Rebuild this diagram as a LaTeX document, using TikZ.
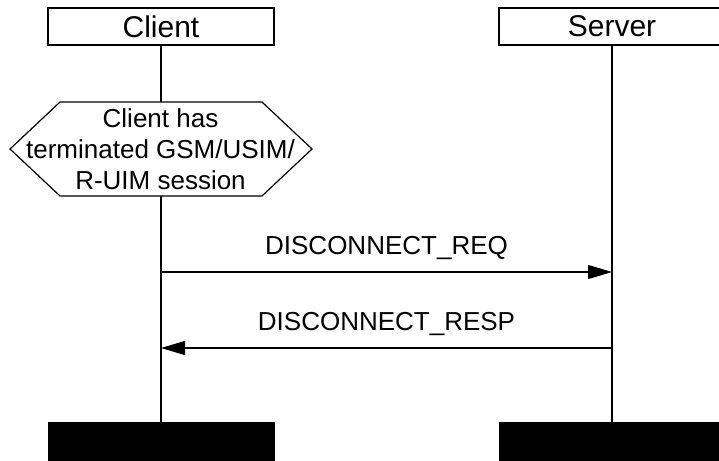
\documentclass[tikz,border=0pt]{standalone}
\usepackage{fontspec}
\setmainfont{Liberation Sans}
\usetikzlibrary{arrows.meta}

\begin{document}
\begin{tikzpicture}[x=1pt,y=1pt, %Escala em pontos
	entidade/.style={draw, line width=1.2pt, minimum width=226pt, minimum height=37pt, inner sep=0pt, font=\fontsize{30}{36}\selectfont},
	fim/.style={fill=black, minimum width=227pt, minimum height=40pt, inner sep=0pt},
	vida/.style={line width=1.2pt},
	msg/.style={line width=1.2pt, -{Triangle[length=24pt,width=14pt]}},
	rotulo/.style={font=\fontsize{26}{31}\selectfont, anchor=base, inner sep=0pt}]
	\useasboundingbox (0,0) rectangle (719,-460); %Margens
	\clip (0,0) rectangle (719,-460);
		%Entidades
	\node[entidade] (client) at (161,-26.5) {Client}; %Cliente
	\node[entidade] (server) at (612,-26.5) {Server}; %Servidor
	\node[fim] (clientfim) at (161,-442) {}; %Fim do cliente
	\node[fim] (serverfim) at (612,-442) {}; %Fim do servidor
		%Linhas de vida
	\draw[vida] (client) -- (clientfim);
	\draw[vida] (server) -- (serverfim);
		%Estado (hexagono)
	\coordinate (estadoc) at (160.5,-149);
	\draw[vida, fill=white] (estadoc) ++(-150.5,0) -- ++(50,47) -- ++(202,0) -- ++(50,-47) -- ++(-50,-47) -- ++(-202,0) -- cycle;
	\node[align=center, inner sep=0pt, font=\fontsize{26}{31}\selectfont] (estado) at (estadoc) {Client has\\terminated GSM/USIM/\\R-UIM session};
		%Mensagens
	\coordinate (req1) at (161,-272); \coordinate (req2) at (612,-272);
	\coordinate (resp1) at (612,-348); \coordinate (resp2) at (161,-348);
	\draw[msg] (req1) -- (req2) node[rotulo, midway, yshift=18pt]{DISCONNECT\_REQ}; %Pedido
	\draw[msg] (resp1) -- (resp2) node[rotulo, midway, yshift=18pt]{DISCONNECT\_RESP}; %Resposta
\end{tikzpicture}
\end{document}
